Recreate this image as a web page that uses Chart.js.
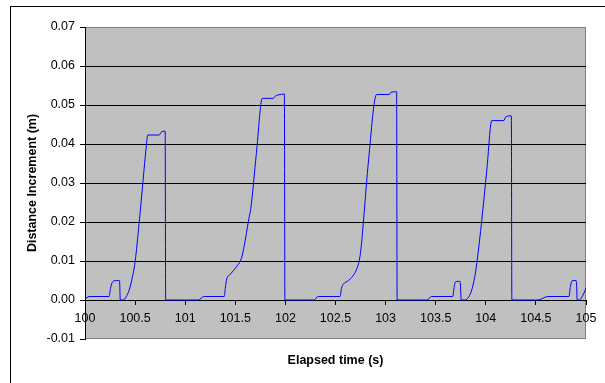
<!DOCTYPE html>
<html>
<head>
<meta charset="utf-8">
<script src="https://cdn.jsdelivr.net/npm/chart.js@4/dist/chart.umd.min.js"></script>
<style>
  body { margin: 0; background: #fff; }
</style>
</head>
<body>
<canvas id="chart" width="605" height="383"></canvas>
<script>
// elapsed time (s) and distance increment (m)
const time = [
  100.00, 100.02, 100.04, 100.24, 100.255, 100.27, 100.29, 100.34, 100.345, 100.352,
  100.38, 100.41, 100.44, 100.47, 100.50, 100.54, 100.58, 100.61, 100.626, 100.74,
  100.76, 100.80, 100.805,
  101.13, 101.19, 101.39, 101.40, 101.415, 101.45, 101.48, 101.52, 101.56, 101.59,
  101.62, 101.64, 101.655, 101.71, 101.77, 101.88, 101.90, 101.93, 101.99, 101.995,
  102.28, 102.33, 102.545, 102.56, 102.58, 102.63, 102.69, 102.72, 102.74, 102.76,
  102.78, 102.83, 102.91, 103.04, 103.05, 103.11, 103.115,
  103.41, 103.46, 103.67, 103.685, 103.70, 103.74, 103.745, 103.755, 103.79, 103.83,
  103.86, 103.89, 103.91, 103.96, 104.01, 104.06, 104.18, 104.20, 104.255, 104.26,
  104.52, 104.62, 104.83, 104.845, 104.86, 104.90, 104.905, 104.912, 104.935, 104.96,
  104.98, 105.00
];
const dist = [
  0.0005, 0.0006, 0.0009, 0.0009, 0.0030, 0.0044, 0.0049, 0.0050, 0.0049, 0.0000,
  0.0000, 0.0008, 0.0025, 0.0055, 0.0098, 0.0197, 0.0308, 0.0390, 0.0423, 0.0423,
  0.0430, 0.0433, 0.0000,
  0.0000, 0.0009, 0.0009, 0.0030, 0.0054, 0.0066, 0.0075, 0.0088, 0.0106, 0.0140,
  0.0185, 0.0215, 0.0235, 0.0375, 0.0517, 0.0517, 0.0523, 0.0526, 0.0528, 0.0000,
  0.0000, 0.0009, 0.0009, 0.0030, 0.0041, 0.0050, 0.0068, 0.0085, 0.0105, 0.0145,
  0.0205, 0.0359, 0.0527, 0.0527, 0.0532, 0.0534, 0.0000,
  0.0000, 0.0009, 0.0009, 0.0035, 0.0047, 0.0048, 0.0045, 0.0000, 0.0000, 0.0008,
  0.0026, 0.0060, 0.0094, 0.0205, 0.0333, 0.0460, 0.0460, 0.0470, 0.0472, 0.0000,
  0.0000, 0.0009, 0.0009, 0.0035, 0.0049, 0.0050, 0.0045, 0.0000, 0.0000, 0.0008,
  0.0018, 0.0031
];
const xTitle = 'Elapsed time (s)';
const yTitle = 'Distance Increment (m)';

const points = time.map((t, i) => ({ x: t, y: dist[i] }));
const font = { family: 'Liberation Sans, Arial, sans-serif', size: 12.5 };
const boldFont = { family: font.family, size: 12.5, weight: 'bold' };

const frame = {
  id: 'frame',
  beforeDraw(chart) {
    const { ctx, chartArea: a } = chart;
    ctx.save();
    ctx.strokeStyle = '#000';
    ctx.lineWidth = 1;
    ctx.strokeRect(10.5, 6.5, 700, 500);
    ctx.fillStyle = '#c0c0c0';
    ctx.fillRect(a.left, a.top, a.right - a.left, a.bottom - a.top);
    ctx.strokeStyle = '#808080';
    ctx.strokeRect(a.left + 0.5, a.top + 0.5, a.right - a.left - 1, a.bottom - a.top - 1);
    ctx.restore();
  }
};

new Chart(document.getElementById('chart'), {
  type: 'scatter',
  data: {
    datasets: [{
      data: points,
      showLine: true,
      borderColor: '#0000ff',
      borderWidth: 1,
      pointRadius: 0,
      cubicInterpolationMode: 'monotone',
      xAxisID: 'x'
    }]
  },
  plugins: [frame],
  options: {
    responsive: false,
    animation: false,
    layout: { padding: { top: 27, right: 19, left: 0, bottom: 0 } },
    plugins: { legend: { display: false }, tooltip: { enabled: false } },
    scales: {
      x: {
        type: 'linear',
        position: { y: 0 },
        min: 100,
        max: 105,
        ticks: {
          stepSize: 0.5,
          color: '#000',
          font: font,
          padding: 7,
          maxRotation: 0,
          callback: v => String(+v.toFixed(1))
        },
        grid: { drawOnChartArea: false, drawTicks: true, tickLength: 4, tickColor: '#000' },
        border: { color: '#000', width: 1 }
      },
      x2: {
        type: 'linear',
        position: 'bottom',
        min: 100,
        max: 105,
        ticks: { display: false },
        grid: { display: false },
        border: { display: false },
        title: {
          display: true,
          text: xTitle,
          color: '#000',
          font: boldFont,
          padding: { top: 0, bottom: 15 }
        },
        afterFit(scale) { scale.height = 44; }
      },
      y: {
        min: -0.01,
        max: 0.07,
        ticks: {
          stepSize: 0.01,
          color: '#000',
          font: font,
          padding: 5,
          callback: v => v.toFixed(2)
        },
        grid: {
          color: c => (c.tick && c.tick.value > -0.005 && c.tick.value < 0.065) ? '#000' : 'rgba(0,0,0,0)',
          tickColor: '#000',
          tickLength: 5
        },
        border: { color: '#000', width: 1 },
        title: {
          display: true,
          text: yTitle,
          color: '#000',
          font: boldFont,
          padding: { top: 25, bottom: 0 }
        },
        afterFit(scale) { scale.width = 85; }
      }
    }
  }
});
</script>
</body>
</html>
